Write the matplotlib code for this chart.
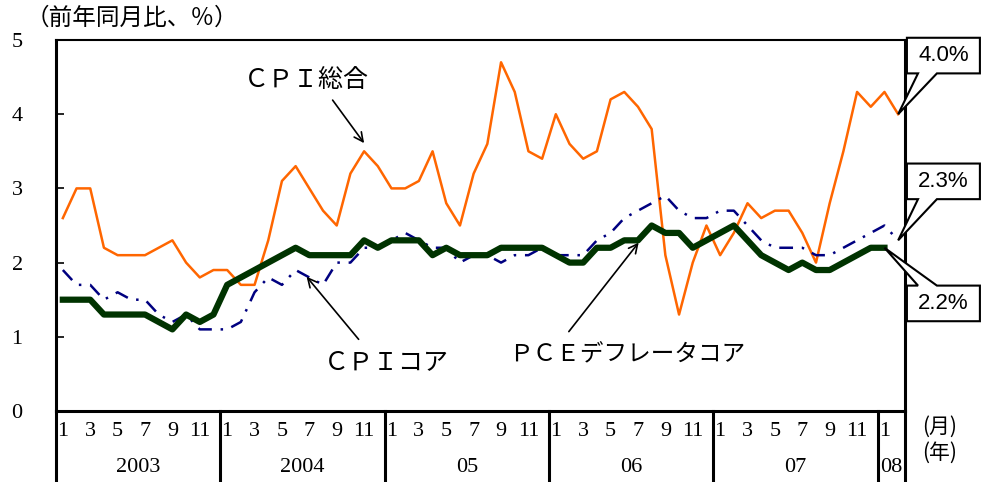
import matplotlib
matplotlib.use('Agg')
import matplotlib.pyplot as plt
from matplotlib.patches import Polygon
import numpy as np

plt.rcParams['font.family'] = ['Noto Sans CJK JP', 'DejaVu Sans']

# jaren en maanden op de x-as
years = ['2003', '2004', '05', '06', '07', '08']
month_labels = ['1', '3', '5', '7', '9', '11']

# CPI総合 (2003/1 - 2008/2)
cpi_total = [2.6, 3.0, 3.0, 2.2, 2.1, 2.1, 2.1, 2.2, 2.3, 2.0, 1.8, 1.9,
             1.9, 1.7, 1.7, 2.3, 3.1, 3.3, 3.0, 2.7, 2.5, 3.2, 3.5, 3.3,
             3.0, 3.0, 3.1, 3.5, 2.8, 2.5, 3.2, 3.6, 4.7, 4.3, 3.5, 3.4,
             4.0, 3.6, 3.4, 3.5, 4.2, 4.3, 4.1, 3.8, 2.1, 1.3, 2.0, 2.5,
             2.1, 2.4, 2.8, 2.6, 2.7, 2.7, 2.4, 2.0, 2.8, 3.5, 4.3, 4.1,
             4.3, 4.0]

# CPIコア (2003/1 - 2008/2)
cpi_core = [1.9, 1.7, 1.7, 1.5, 1.6, 1.5, 1.5, 1.3, 1.2, 1.3, 1.1, 1.1,
            1.1, 1.2, 1.6, 1.8, 1.7, 1.9, 1.8, 1.7, 2.0, 2.0, 2.2, 2.2,
            2.3, 2.4, 2.3, 2.2, 2.2, 2.0, 2.1, 2.1, 2.0, 2.1, 2.1, 2.2,
            2.1, 2.1, 2.1, 2.3, 2.4, 2.6, 2.7, 2.8, 2.9, 2.7, 2.6, 2.6,
            2.7, 2.7, 2.5, 2.3, 2.2, 2.2, 2.2, 2.1, 2.1, 2.2, 2.3, 2.4,
            2.5, 2.3]

# PCEデフレータコア (2003/1 - 2008/1)
pce_core = [1.5, 1.5, 1.5, 1.3, 1.3, 1.3, 1.3, 1.2, 1.1, 1.3, 1.2, 1.3,
            1.7, 1.8, 1.9, 2.0, 2.1, 2.2, 2.1, 2.1, 2.1, 2.1, 2.3, 2.2,
            2.3, 2.3, 2.3, 2.1, 2.2, 2.1, 2.1, 2.1, 2.2, 2.2, 2.2, 2.2,
            2.1, 2.0, 2.0, 2.2, 2.2, 2.3, 2.3, 2.5, 2.4, 2.4, 2.2, 2.3,
            2.4, 2.5, 2.3, 2.1, 2.0, 1.9, 2.0, 1.9, 1.9, 2.0, 2.1, 2.2,
            2.2]

serif = ['Liberation Serif', 'DejaVu Serif']
sans = ['Liberation Sans', 'DejaVu Sans']

fig = plt.figure(figsize=(9.96, 4.82), dpi=100)
ax = fig.add_axes([56/996., 71/482., 849/996., 371/482.])

n_months = len(cpi_total)

# lijnen tekenen
x_cpi = np.arange(len(cpi_total)) + 0.5
x_core = np.arange(len(cpi_core)) + 0.5
x_pce = np.arange(len(pce_core)) + 0.5
ax.plot(x_cpi, cpi_total, color='#FF6600', lw=1.8, zorder=2)
ax.plot(x_core, cpi_core, color='#000080', lw=1.8, dashes=(5.5, 3.5, 1, 3.5), zorder=3)
ax.plot(x_pce, pce_core, color='#003300', lw=4.5, zorder=4)

ax.set_xlim(0, n_months)
ax.set_ylim(0, 5)

# y-as
ax.set_yticks(range(6))
ax.set_yticklabels([str(v) for v in range(6)], family=serif, fontsize=16)
ax.tick_params(axis='y', direction='in', length=6, width=1.2, pad=24)

# x-as: maanden
tick_pos = []
tick_lab = []
for k in range(n_months):
    if k % 2 == 0:
        tick_pos.append(k + 0.5)
        tick_lab.append(month_labels[(k % 12) // 2])
ax.set_xticks(tick_pos)
ax.set_xticklabels(tick_lab, family=serif, fontsize=16)
ax.tick_params(axis='x', length=0, pad=8)

# jaren en scheidingslijnen
trans = ax.get_xaxis_transform()
for j, year in enumerate(years):
    start = j * 12
    end = min(start + 12, n_months)
    ax.text((start + end) / 2., -0.151, year, transform=trans, ha='center',
            va='center', family=serif, fontsize=16)
    ax.plot([start, start], [0, -0.25], transform=trans, color='black',
            lw=2.2, clip_on=False)
ax.plot([n_months, n_months], [0, -0.25], transform=trans, color='black',
        lw=2.2, clip_on=False)

ax.text(1.041, -0.043, '(月)', transform=ax.transAxes, ha='center',
        va='center', fontsize=15)
ax.text(1.041, -0.113, '(年)', transform=ax.transAxes, ha='center',
        va='center', fontsize=15)

for side in ['left', 'bottom', 'right']:
    ax.spines[side].set_linewidth(2.2)
ax.spines['top'].set_linewidth(1.5)

fig.text(26/996., 1 - 18/482., '（前年同月比、％）', ha='left', va='center',
         fontsize=17)

# labels met pijlen
ax.text(18.25, 4.46, 'ＣＰＩ総合', ha='center', va='center', fontsize=18)
ax.annotate('', xy=(22.5, 3.61), xytext=(20.2, 4.19),
            arrowprops=dict(arrowstyle='->', color='black', lw=1.2,
                            shrinkA=0, shrinkB=0, mutation_scale=16))
ax.text(24.16, 0.656, 'ＣＰＩコア', ha='center', va='center', fontsize=18)
ax.annotate('', xy=(18.3, 1.81), xytext=(22.1, 0.966),
            arrowprops=dict(arrowstyle='->', color='black', lw=1.2,
                            shrinkA=0, shrinkB=0, mutation_scale=16))
ax.text(41.7, 0.75, 'ＰＣＥデフレータコア', ha='center', va='center', fontsize=17)
ax.annotate('', xy=(42.55, 2.27), xytext=(37.45, 1.07),
            arrowprops=dict(arrowstyle='->', color='black', lw=1.2,
                            shrinkA=0, shrinkB=0, mutation_scale=16))

# callouts met eindwaarden (kader + punt naar laatste waarde)
box_left, box_right = 62.14, 67.47
notch_a, notch_b = 62.95, 64.33
box_h = 0.48

def callout(value, xy, y_mid, below):
    top = y_mid + box_h / 2.
    bot = y_mid - box_h / 2.
    if below:
        pts = [(box_left, top), (box_right, top), (box_right, bot),
               (notch_b, bot), xy, (notch_a, bot), (box_left, bot)]
    else:
        pts = [(box_left, bot), (box_right, bot), (box_right, top),
               (notch_b, top), xy, (notch_a, top), (box_left, top)]
    shape = Polygon(pts, closed=True, fc='white', ec='black', lw=1.5,
                    clip_on=False, zorder=6, joinstyle='miter')
    ax.add_patch(shape)
    ax.text((box_left + box_right) / 2., y_mid, '%.1f%%' % value,
            ha='center', va='center', fontsize=16, family=sans, zorder=7)

callout(cpi_total[-1], (x_cpi[-1], cpi_total[-1]), 4.79, True)
callout(cpi_core[-1], (x_core[-1], cpi_core[-1]), 3.095, True)
callout(pce_core[-1], (x_pce[-1], pce_core[-1]), 1.45, False)

fig.savefig('out.png', dpi=100)
